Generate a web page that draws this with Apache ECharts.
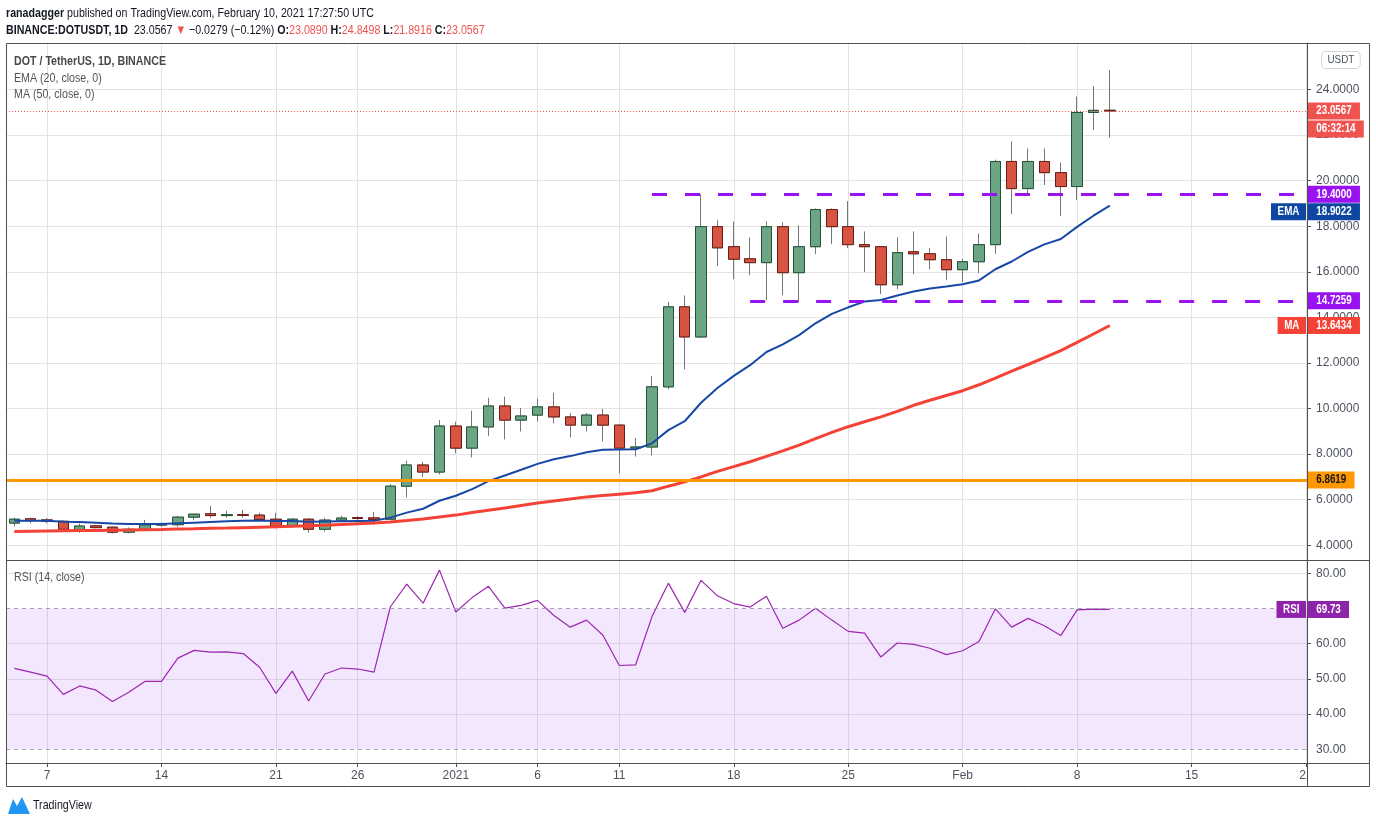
<!DOCTYPE html>
<html><head><meta charset="utf-8">
<script src="https://cdn.jsdelivr.net/npm/echarts@6/dist/echarts.min.js"></script>
<style>html,body{margin:0;padding:0;background:#fff;}#c{width:1376px;height:824px;}</style>
</head><body><div id="c"></div>
<script>
// ---- data (day index 0 = 2020-12-05) ----
const open  = [4.97,5.16,5.11,5.05,4.69,4.85,4.79,4.57,4.70,4.88,4.90,5.23,5.38,5.30,5.34,5.32,5.14,4.84,5.14,4.70,5.10,5.21,5.20,5.14,6.59,7.52,7.21,9.23,8.26,9.19,10.11,9.49,9.71,10.07,9.63,9.27,9.71,9.27,8.26,8.31,10.95,14.46,13.14,17.98,17.10,16.57,16.40,17.98,15.96,17.10,18.73,17.98,17.19,17.10,15.43,16.88,16.79,16.53,16.09,16.44,17.19,20.84,19.65,20.84,20.35,19.74,22.99,23.089];
const close = [5.14,5.08,5.05,4.70,4.84,4.77,4.57,4.70,4.89,4.93,5.23,5.36,5.30,5.34,5.31,5.13,4.84,5.14,4.70,5.10,5.19,5.17,5.13,6.59,7.52,7.21,9.23,8.26,9.19,10.11,9.49,9.67,10.07,9.63,9.27,9.71,9.27,8.26,8.31,10.95,14.46,13.14,17.98,17.05,16.55,16.40,17.98,15.96,17.10,18.73,17.98,17.19,17.10,15.43,16.84,16.79,16.53,16.09,16.44,17.19,20.84,19.65,20.84,20.35,19.74,22.99,23.0846,23.0567];
const low   = [4.82,4.95,4.95,4.66,4.54,4.74,4.51,4.52,4.66,4.80,4.80,5.10,5.21,5.21,5.21,5.07,4.73,4.77,4.54,4.60,5.01,5.10,4.89,5.10,6.09,7.00,7.10,8.03,7.85,8.80,8.64,8.99,9.43,9.35,8.73,8.99,8.55,7.15,7.89,7.94,10.84,11.72,13.10,16.25,15.67,15.85,14.75,14.97,14.66,16.77,17.21,17.04,15.98,15.02,15.24,15.89,16.11,15.63,15.54,15.94,16.79,18.53,19.43,19.81,18.44,19.15,22.22,21.8916];
const high  = [5.21,5.21,5.19,5.08,4.95,4.90,4.82,4.78,5.11,5.00,5.29,5.39,5.73,5.51,5.55,5.42,5.42,5.20,5.20,5.20,5.29,5.27,5.46,6.68,7.71,7.66,9.49,9.42,9.90,10.47,10.52,10.02,10.43,10.69,9.80,9.80,9.98,9.32,8.70,11.43,14.68,14.96,19.40,18.26,18.21,17.51,18.21,18.17,18.04,18.78,18.78,19.10,17.77,17.10,17.51,17.77,17.05,17.55,16.57,17.68,20.92,21.73,21.41,21.41,20.79,23.69,24.14,24.8498];
const ema20 = [5.07,5.07,5.07,5.03,5.02,4.99,4.95,4.93,4.93,4.93,4.96,4.99,5.02,5.05,5.07,5.08,5.06,5.06,5.03,5.04,5.05,5.06,5.07,5.21,5.43,5.60,5.95,6.17,6.46,6.81,7.06,7.31,7.57,7.77,7.91,8.08,8.19,8.20,8.21,8.47,9.05,9.44,10.25,10.90,11.43,11.90,12.48,12.81,13.22,13.74,14.15,14.44,14.69,14.76,14.96,15.13,15.27,15.35,15.45,15.62,16.11,16.45,16.87,17.20,17.44,17.97,18.46,18.9022];
const ma50  = [4.60,4.61,4.62,4.63,4.64,4.65,4.66,4.67,4.68,4.69,4.71,4.72,4.74,4.75,4.77,4.79,4.81,4.83,4.85,4.88,4.91,4.94,4.97,5.02,5.08,5.15,5.24,5.32,5.43,5.53,5.63,5.74,5.85,5.94,6.03,6.12,6.18,6.24,6.30,6.39,6.59,6.78,7.00,7.24,7.45,7.66,7.90,8.14,8.39,8.68,8.95,9.20,9.42,9.63,9.87,10.14,10.36,10.57,10.78,11.04,11.33,11.64,11.93,12.23,12.54,12.90,13.27,13.6434];
const rsi14 = [53.0,51.9,50.8,45.6,48.0,46.8,43.6,46.2,49.3,49.3,55.9,58.1,57.6,57.7,57.2,53.3,45.9,52.2,43.7,51.4,53.1,52.8,51.9,70.5,76.9,71.5,80.9,69.0,73.1,76.3,70.1,70.9,72.3,68.0,64.7,66.7,62.4,53.8,54.0,67.7,77.2,68.9,78.0,73.6,71.4,70.4,73.5,64.4,66.7,70.1,66.7,63.5,63.0,56.2,60.2,59.8,58.7,56.9,58.0,60.6,69.9,64.7,67.2,65.1,62.3,69.6,69.8,69.73];

const xTickIdx    = [2,9,16,21,27,32,37,44,51,58,65,72,79];
const xTickLabels = ['7','14','21','26','2021','6','11','18','25','Feb','8','15','22'];
const priceTicks  = [4,6,8,10,12,14,16,18,20,22,24];
const rsiTicks    = [30,40,50,60,70,80];
const rsiGridTicks= [40,50,60,80];
const rsiBand     = [30,70];

const levelValues = [19.4, 14.7259, 6.8619];
const levelStart  = [39, 45, null];
const countdown   = '06:32:14';

// ---- view ----
const X_MIN = -0.51, X_MAX = 79.06;
const FONT = "'Liberation Sans',Arial,sans-serif";
const SX = 0.82; // horizontal squeeze of the reference lettering
const PURPLE = '#9b12f2';
const GRID = '#e3e3e3';
const n = close.length;

const wickData = open.map((o,i)=>[i,o,close[i],low[i],high[i]]);
const bodyData = open.map((o,i)=>[i,o,close[i],Math.min(o,close[i]),Math.max(o,close[i])]);

const chart = echarts.init(document.getElementById('c'));

function lvlLine(v, start, color, type, width){
  return [{coord:[start==null?X_MIN:start, v], lineStyle:{color, type, width}}, {coord:[X_MAX, v]}];
}

const option = {
  animation:false,
  grid:[
    {left:6, top:43, width:1301, height:517, outerBoundsMode:'none', containLabel:false},
    {left:6, top:560, width:1301, height:203, outerBoundsMode:'none', containLabel:false}
  ],
  xAxis:[
    {type:'value', gridIndex:0, min:X_MIN, max:X_MAX,
     axisLine:{show:false, onZero:false}, axisTick:{show:false, customValues:xTickIdx},
     axisLabel:{show:false, customValues:xTickIdx},
     splitLine:{show:true, customValues:xTickIdx, lineStyle:{color:GRID, width:1}}},
    {type:'value', gridIndex:1, min:X_MIN, max:X_MAX,
     axisLine:{show:true, onZero:false, lineStyle:{color:'#4f4f4f'}},
     axisTick:{show:true, length:4, customValues:xTickIdx, lineStyle:{color:'#4f4f4f'}},
     axisLabel:{show:true, customValues:xTickIdx, margin:7, color:'#4c525e', fontSize:12, fontFamily:FONT,
       formatter:v=>{const k=xTickIdx.indexOf(Math.round(v)); return k<0?'':xTickLabels[k];}},
     splitLine:{show:true, customValues:xTickIdx, lineStyle:{color:GRID, width:1}}}
  ],
  yAxis:[
    {type:'value', gridIndex:0, position:'right', min:3.35, max:26.04, scale:true,
     axisLine:{show:true, onZero:false, lineStyle:{color:'#4f4f4f'}},
     axisTick:{show:true, length:4, customValues:priceTicks, lineStyle:{color:'#4f4f4f'}},
     axisLabel:{customValues:priceTicks, margin:9, color:'#4c525e', fontSize:12, fontFamily:FONT, formatter:v=>v.toFixed(4)},
     splitLine:{show:true, customValues:priceTicks, lineStyle:{color:GRID}}},
    {type:'value', gridIndex:1, position:'right', min:26.1, max:83.78, scale:true,
     axisLine:{show:true, onZero:false, lineStyle:{color:'#4f4f4f'}},
     axisTick:{show:true, length:4, customValues:rsiGridTicks, lineStyle:{color:'#4f4f4f'}},
     axisLabel:{customValues:rsiTicks, margin:9, color:'#4c525e', fontSize:12, fontFamily:FONT, formatter:v=>v.toFixed(2)},
     splitLine:{show:true, customValues:rsiGridTicks, lineStyle:{color:GRID}}}
  ],
  series:[
    {type:'line', xAxisIndex:0, yAxisIndex:0, data:[], silent:true, z:1,
     markLine:{silent:true, symbol:['none','none'], label:{show:false}, animation:false,
       data:[ lvlLine(close[n-1], null, '#ef5350', [1,2], 1) ]}},
    {type:'candlestick', name:'wick', xAxisIndex:0, yAxisIndex:0, data:wickData, encode:{x:0,y:[1,2,3,4]},
     barWidth:11, silent:true, z:2,
     itemStyle:{color:'rgba(0,0,0,0)', color0:'rgba(0,0,0,0)', borderColor:'#767676', borderColor0:'#767676', borderWidth:1}},
    {type:'candlestick', name:'body', xAxisIndex:0, yAxisIndex:0, data:bodyData, encode:{x:0,y:[1,2,3,4]},
     barWidth:11, silent:true, z:3,
     itemStyle:{color:'#6ba583', color0:'#d75442', borderColor:'#225437', borderColor0:'#6b1c14', borderWidth:1}},
    {type:'line', name:'EMA', xAxisIndex:0, yAxisIndex:0, data:ema20.map((v,i)=>[i,v]), symbol:'none', silent:true, z:4,
     lineStyle:{color:'#1848a6', width:2}},
    {type:'line', name:'MA', xAxisIndex:0, yAxisIndex:0, data:ma50.map((v,i)=>[i,v]), symbol:'none', silent:true, z:4,
     lineStyle:{color:'#f44336', width:3}},
    {type:'line', xAxisIndex:0, yAxisIndex:0, data:[], silent:true, z:5,
     markLine:{silent:true, symbol:['none','none'], label:{show:false}, animation:false,
       data:[
         lvlLine(levelValues[0], levelStart[0], PURPLE, [15,18], 3),
         lvlLine(levelValues[1], levelStart[1], PURPLE, [15,18], 3),
         lvlLine(levelValues[2], levelStart[2], '#ff9800', 'solid', 3)
       ]}},
    {type:'line', name:'RSI', xAxisIndex:1, yAxisIndex:1, data:rsi14.map((v,i)=>[i,v]), symbol:'none', silent:true, z:4,
     lineStyle:{color:'#9c27b0', width:1.2},
     markArea:{silent:true, itemStyle:{color:'rgba(160,60,240,0.12)'},
       data:[[{coord:[X_MIN, rsiBand[0]]},{coord:[X_MAX, rsiBand[1]]}]]},
     markLine:{silent:true, symbol:['none','none'], label:{show:false}, animation:false,
       data:[
         lvlLine(rsiBand[0], null, '#a3a6af', [4,4], 1),
         lvlLine(rsiBand[1], null, '#a3a6af', [4,4], 1)
       ]}}
  ]
};
chart.setOption(option);

// ---- overlay texts & price badges ----
const g = [];
const T = (text, x, y, opt, sx) => ({type:'text', z:100, silent:true, x, y, scaleX:(sx==null?SX:sx), originX:0, originY:0,
  style:Object.assign({text, x:0, y:0, fill:'#131722', font:'13px '+FONT, verticalAlign:'middle', align:'left'}, opt||{})});

const hdrRich = {
  b:{fontWeight:'bold', fontSize:13, fontFamily:FONT, fill:'#131722'},
  n:{fontSize:13, fontFamily:FONT, fill:'#131722'},
  r:{fontSize:13, fontFamily:FONT, fill:'#ef5350'}
};
g.push(T('{b|ranadagger}{n| published on TradingView.com, February 10, 2021 17:27:50 UTC}', 6, 13, {rich:hdrRich}));
const chg = close[n-1]-close[n-2];
const pct = chg/close[n-2]*100;
const neg = s => s.replace('-', '\u2212');
g.push(T('{b|BINANCE:DOTUSDT, 1D}{n|  '+close[n-1].toFixed(4)+' }{r|\u25BC}{n| '+neg(chg.toFixed(4))+' ('+neg(pct.toFixed(2))+'%) }'+
       '{b|O:}{r|'+open[n-1].toFixed(4)+'}{b| H:}{r|'+high[n-1].toFixed(4)+'}{b| L:}{r|'+low[n-1].toFixed(4)+'}{b| C:}{r|'+close[n-1].toFixed(4)+'}',
       6, 30, {rich:hdrRich}));

g.push(T('DOT / TetherUS, 1D, BINANCE', 14, 61, {fill:'#4a4a4a', font:'bold 13px '+FONT}));
g.push(T('EMA (20, close, 0)', 14, 78.5, {fill:'#555'}));
g.push(T('MA (50, close, 0)', 14, 94.5, {fill:'#555'}));
g.push(T('RSI (14, close)', 14, 577, {fill:'#555'}));

// price-scale strip below the RSI pane hides the overflow of the last date label
g.push({type:'rect', z:89, silent:true, shape:{x:1308, y:764, width:61, height:22}, style:{fill:'#fff'}});

// frame
const L = (x1,y1,x2,y2) => ({type:'line', z:90, silent:true, shape:{x1,y1,x2,y2}, style:{stroke:'#4f4f4f', lineWidth:1}});
g.push({type:'rect', z:90, silent:true, shape:{x:6.5, y:43.5, width:1363, height:743}, style:{fill:null, stroke:'#4f4f4f', lineWidth:1}});
g.push(L(1307.5,43,1307.5,787));
g.push(L(6,560.5,1370,560.5));
g.push(L(6,763.5,1370,763.5));

// USDT tag
g.push(T('USDT', 1322, 60, {fill:'#4c525e', font:'11px '+FONT, backgroundColor:'#fff', borderColor:'#cfd2d8', borderWidth:1, borderRadius:4, padding:[3,6,2,6]}, 0.9));

// badges
const py = v => chart.convertToPixel({xAxisIndex:0, yAxisIndex:0}, [X_MAX, v])[1];
const ry = v => chart.convertToPixel({xAxisIndex:1, yAxisIndex:1}, [X_MAX, v])[1];
const badges = [
  {y:py(close[n-1]), t:close[n-1].toFixed(4), bg:'#ef5350'},
  {y:py(close[n-1])+18, t:countdown, bg:'#ef5350'},
  {y:py(levelValues[0]), t:levelValues[0].toFixed(4), bg:PURPLE},
  {y:py(ema20[n-1]), t:ema20[n-1].toFixed(4), bg:'#0d47a1', name:'EMA'},
  {y:py(levelValues[1]), t:levelValues[1].toFixed(4), bg:PURPLE},
  {y:py(ma50[n-1]), t:ma50[n-1].toFixed(4), bg:'#f44336', name:'MA'},
  {y:py(levelValues[2]), t:levelValues[2].toFixed(4), bg:'#ff9800', fg:'#131722'},
  {y:ry(rsi14[n-1]), t:rsi14[n-1].toFixed(2), bg:'#8e24aa', name:'RSI'}
];
badges.sort((a,b)=>a.y-b.y);
for (let i=1;i<badges.length;i++){ if (badges[i].y < badges[i-1].y+17.5) badges[i].y = badges[i-1].y+17.5; }
badges.forEach(b=>{
  g.push(T(b.t, 1308, b.y, {fill:b.fg||'#fff', font:'bold 12px '+FONT, backgroundColor:b.bg, padding:[3,10,2,10], lineHeight:12}));
  if (b.name) g.push(T(b.name, 1306, b.y, {align:'right', fill:'#fff', font:'bold 12px '+FONT, backgroundColor:b.bg, padding:[3,8,2,8], lineHeight:12}));
});

// TradingView mark
g.push({type:'polygon', z:100, silent:true, shape:{points:[[8,814],[13,799],[17,806],[22,797],[30,814]]}, style:{fill:'#2196f3'}});
g.push(T('TradingView', 33, 805, {fill:'#131722', font:'13px '+FONT}));

chart.setOption({graphic:g});
</script></body></html>
